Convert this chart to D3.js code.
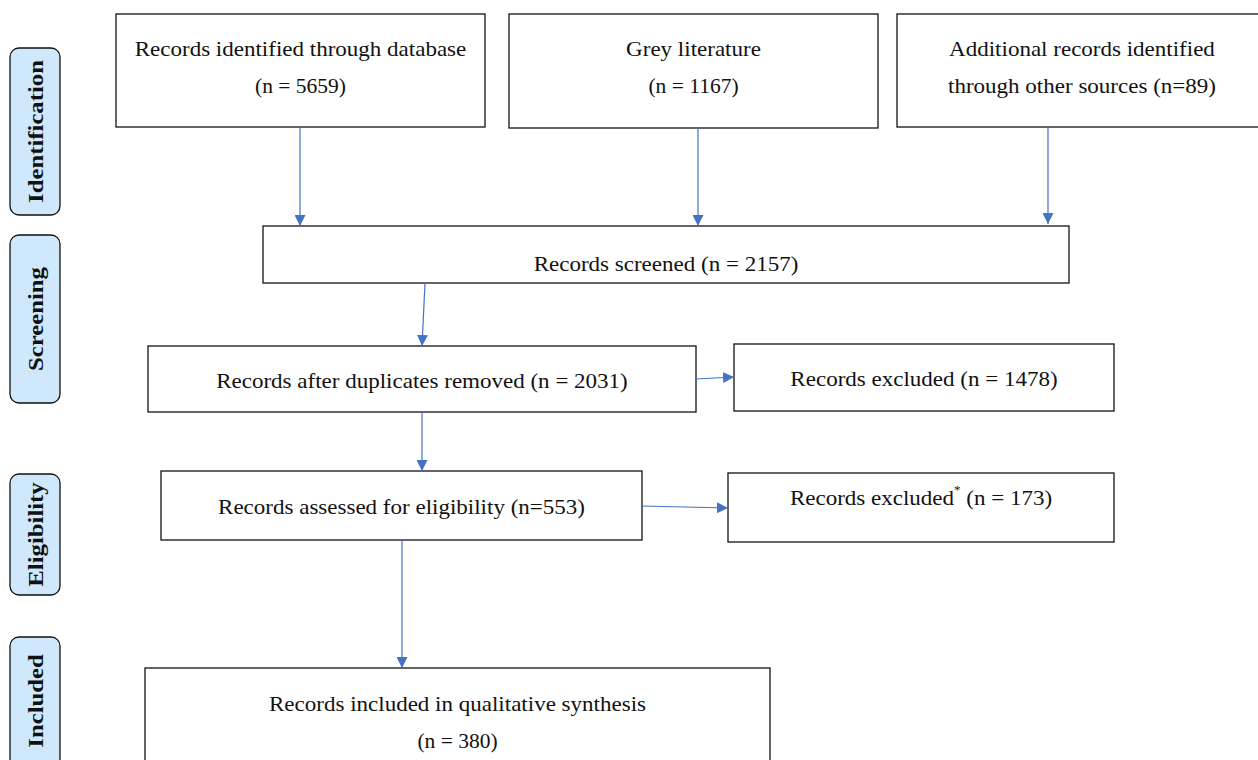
<!DOCTYPE html>
<html><head><meta charset="utf-8">
<script src="https://cdn.jsdelivr.net/npm/d3@7"></script>
<style>html,body{margin:0;padding:0;background:#fff;overflow:hidden}</style>
</head><body>
<svg id="c" width="1258" height="760"></svg>
<script>
// ---- data ----
const stages = ["Identification", "Screening", "Eligibility", "Included"];
const boxLabels = [
  ["Records identified through database", "(n = 5659)"],
  ["Grey literature", "(n = 1167)"],
  ["Additional records identified", "through other sources (n=89)"],
  ["Records screened (n = 2157)"],
  ["Records after duplicates removed (n = 2031)"],
  ["Records excluded (n = 1478)"],
  ["Records assessed for eligibility (n=553)"],
  ["Records excluded* (n = 173)"],
  ["Records included in qualitative synthesis", "(n = 380)"]
];
const counts = [5659, 1167, 89, 2157, 2031, 1478, 553, 173, 380];

// ---- layout (pixels) ----
const stageRects = [[10,48,50,167],[10,235,50,168],[10,474,50,121],[10,637,50,140]];
const boxRects = [
  [116,14,369,113],[509,14,369,114],[897,14,370,113],
  [263,226,806,57],[148,346,548,66],[734,344,380,67],
  [161,471,481,69],[728,473,386,69],[145,668,625,110]
];
const textY = [[49,86],[49,86],[49,86],[264],[381],[379],[507],[498],[704,741]];
const arrows = [
  [300,127,300,226],[698,128,698,226],[1048,127,1048,224],
  [425,283,422,346],[696,379,734,377],[422,412,422,471],
  [642,506,728,508],[402,540,402,668]
];

const svg = d3.select("#c");
const font = "'Liberation Serif', 'Times New Roman', serif";
const blue = "#4472c4";

svg.append("defs").append("marker")
  .attr("id","ah").attr("viewBox","0 0 10 10").attr("refX",10).attr("refY",5)
  .attr("markerWidth",11).attr("markerHeight",11).attr("markerUnits","userSpaceOnUse")
  .attr("orient","auto")
  .append("path").attr("d","M0,0L10,5L0,10Z").attr("fill",blue);

function stretch(sel, f){
  sel.each(function(){
    const L = this.getComputedTextLength();
    d3.select(this).attr("textLength", L*f).attr("lengthAdjust","spacingAndGlyphs");
  });
}

// stage labels
const sg = svg.selectAll("g.stage").data(stages).join("g").attr("class","stage");
sg.append("rect")
  .attr("x",(d,i)=>stageRects[i][0]).attr("y",(d,i)=>stageRects[i][1])
  .attr("width",(d,i)=>stageRects[i][2]).attr("height",(d,i)=>stageRects[i][3])
  .attr("rx",9).attr("fill","#cfe8fc").attr("stroke","#111").attr("stroke-width",1.3);
const st = sg.append("text")
  .attr("transform",(d,i)=>{
    const r = stageRects[i];
    const cy = i===3 ? 701 : r[1]+r[3]/2;
    return `translate(${r[0]+r[2]/2+1},${cy}) rotate(-90)`;
  })
  .attr("text-anchor","middle").attr("dominant-baseline","central")
  .attr("font-family",font).attr("font-weight","bold").attr("font-size",21.5)
  .attr("fill","#111").text(d=>d);
stretch(st, 1.15);

// boxes
const bg = svg.selectAll("g.box").data(boxLabels).join("g").attr("class","box");
bg.append("rect")
  .attr("x",(d,i)=>boxRects[i][0]).attr("y",(d,i)=>boxRects[i][1])
  .attr("width",(d,i)=>boxRects[i][2]).attr("height",(d,i)=>boxRects[i][3])
  .attr("fill","#fff").attr("stroke","#111").attr("stroke-width",1.3);
bg.each(function(lines,i){
  const g = d3.select(this);
  const cx = boxRects[i][0] + boxRects[i][2]/2;
  lines.forEach((ln,j)=>{
    const t = g.append("text").attr("x",cx).attr("y",textY[i][j])
      .attr("text-anchor","middle").attr("dominant-baseline","central")
      .attr("font-family",font).attr("font-size",21.5).attr("fill","#111");
    if (ln.includes("*")) {
      const parts = ln.split("*");
      t.append("tspan").text(parts[0]);
      t.append("tspan").attr("font-size",12).attr("dy",-8).text("*");
      t.append("tspan").attr("dy",8).text(parts[1]);
    } else t.text(ln);
    stretch(t, ln.startsWith("(") ? 1.0 : 1.07);
  });
});

// arrows
svg.selectAll("line.arr").data(arrows).join("line").attr("class","arr")
  .attr("x1",d=>d[0]).attr("y1",d=>d[1]).attr("x2",d=>d[2]).attr("y2",d=>d[3])
  .attr("stroke",blue).attr("stroke-width",1.2).attr("marker-end","url(#ah)");
</script>
</body></html>
